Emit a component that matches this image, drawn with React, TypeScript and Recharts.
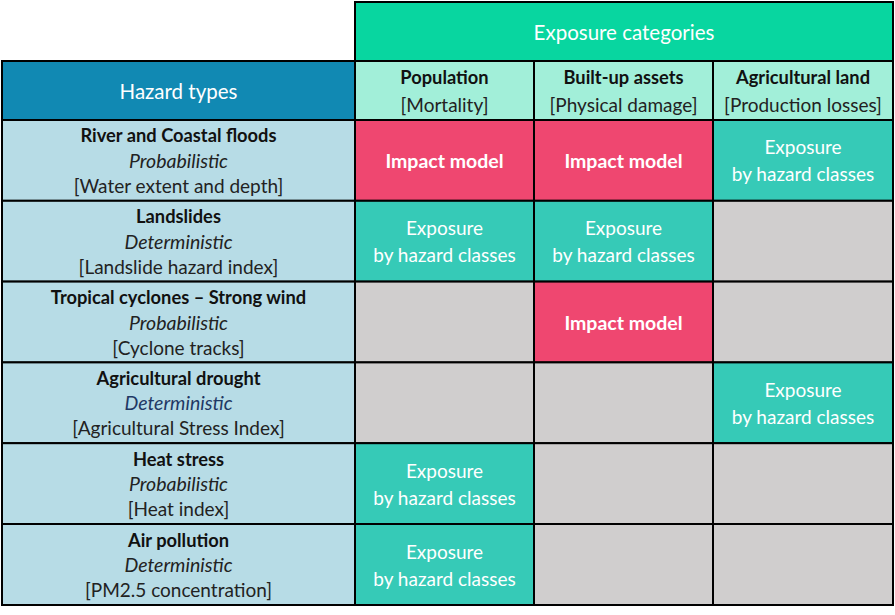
import React from 'react';
import { ComposedChart, XAxis, YAxis, ReferenceArea } from 'recharts';

// ---------- data ----------
const hazardTitle = 'Hazard types';
const exposureTitle = 'Exposure categories';
const hazardTypes = [
  'River and Coastal floods',
  'Landslides',
  'Tropical cyclones – Strong wind',
  'Agricultural drought',
  'Heat stress',
  'Air pollution',
];
const hazardMethods = ['Probabilistic', 'Deterministic', 'Probabilistic', 'Deterministic', 'Probabilistic', 'Deterministic'];
const hazardInputs = [
  '[Water extent and depth]',
  '[Landslide hazard index]',
  '[Cyclone tracks]',
  '[Agricultural Stress Index]',
  '[Heat index]',
  '[PM2.5 concentration]',
];
const exposureCategories = ['Population', 'Built-up assets', 'Agricultural land'];
const exposureMetrics = ['[Mortality]', '[Physical damage]', '[Production losses]'];
const populationCells = ['impact', 'exposure', 'none', 'none', 'exposure', 'exposure'];
const builtUpCells = ['impact', 'exposure', 'impact', 'none', 'none', 'none'];
const agriculturalCells = ['exposure', 'none', 'none', 'exposure', 'none', 'none'];
const cellLabels: Record<string, string[]> = {
  impact: ['Impact model'],
  exposure: ['Exposure', 'by hazard classes'],
  none: [],
};

// ---------- layout & style ----------
const W = 895;
const H = 615;
const COL = [0, 353, 532, 711, 891];
const ROW = [0, 59, 118, 198.8, 279.6, 360.4, 441.2, 522, 603];
const FONT = "Lato, 'Open Sans', sans-serif";
const COLORS: Record<string, string> = {
  exposureHead: '#08D6A0',
  hazardHead: '#1189B3',
  subHead: '#A2EFD9',
  hazardCell: '#B7DCE6',
  impact: '#EF4770',
  exposure: '#36CAB7',
  none: '#D0CECE',
};

type Line = { text: string; weight?: number; italic?: boolean; color?: string; size?: number };

function makeShape(fill: string, lines: Line[], gap: number) {
  return (p: any) => {
    const { x, y, width, height } = p;
    const cx = x + width / 2;
    const cy = y + height / 2;
    const n = lines.length;
    return (
      <g>
        <rect x={x} y={y} width={width} height={height} fill={fill} stroke="#000" strokeWidth={2} />
        {lines.map((l, i) => (
          <text
            key={i}
            x={cx}
            y={cy + (i - (n - 1) / 2) * gap}
            textAnchor="middle"
            dominantBaseline="central"
            fontFamily={FONT}
            fontSize={l.size ?? 19}
            fontWeight={l.weight ?? 400}
            fontStyle={l.italic ? 'italic' : 'normal'}
            fill={l.color ?? '#111'}
          >
            {l.text}
          </text>
        ))}
      </g>
    );
  };
}

type Cell = { key: string; x1: number; x2: number; y1: number; y2: number; shape: any };

function buildCells(): Cell[] {
  const cells: Cell[] = [];
  cells.push({
    key: 'exp-head', x1: COL[1], x2: COL[4], y1: ROW[0], y2: ROW[1],
    shape: makeShape(COLORS.exposureHead, [{ text: exposureTitle, color: '#fff', size: 20.5 }], 0),
  });
  cells.push({
    key: 'haz-head', x1: COL[0], x2: COL[1], y1: ROW[1], y2: ROW[2],
    shape: makeShape(COLORS.hazardHead, [{ text: hazardTitle, color: '#fff', size: 20.5 }], 0),
  });
  exposureCategories.forEach((c, j) => {
    cells.push({
      key: 'sub' + j, x1: COL[j + 1], x2: COL[j + 2], y1: ROW[1], y2: ROW[2],
      shape: makeShape(COLORS.subHead, [
        { text: c, weight: 700, size: 18.3 },
        { text: exposureMetrics[j], color: '#222' },
      ], 27),
    });
  });
  const columns = [populationCells, builtUpCells, agriculturalCells];
  hazardTypes.forEach((h, i) => {
    cells.push({
      key: 'haz' + i, x1: COL[0], x2: COL[1], y1: ROW[i + 2], y2: ROW[i + 3],
      shape: makeShape(COLORS.hazardCell, [
        { text: h, weight: 700, size: 18.3 },
        { text: hazardMethods[i], italic: true, size: 19.5, color: i === 3 ? '#1F3864' : '#222' },
        { text: hazardInputs[i], color: '#222' },
      ], 25),
    });
    columns.forEach((col, j) => {
      const kind = col[i];
      const lines = cellLabels[kind].map((t) => ({
        text: t, color: '#fff', weight: kind === 'impact' ? 700 : 400, size: kind === 'impact' ? 19.5 : 19,
      }));
      cells.push({
        key: `c${i}-${j}`, x1: COL[j + 1], x2: COL[j + 2], y1: ROW[i + 2], y2: ROW[i + 3],
        shape: makeShape(COLORS[kind], lines, 27),
      });
    });
  });
  return cells;
}

export default function App() {
  const cells = buildCells();
  return (
    <div style={{ position: 'absolute', left: 0, top: 0, width: W, height: H, background: '#fff' }}>
      <ComposedChart width={W} height={H} margin={{ top: 2, right: 2, bottom: 10, left: 2 }} data={[]}>
        <XAxis type="number" dataKey="x" domain={[COL[0], COL[4]]} hide allowDataOverflow />
        <YAxis type="number" dataKey="y" domain={[ROW[0], ROW[ROW.length - 1]]} reversed hide allowDataOverflow />
        {cells.map((c) => (
          <ReferenceArea
            key={c.key}
            x1={c.x1}
            x2={c.x2}
            y1={c.y1}
            y2={c.y2}
            fillOpacity={1}
            ifOverflow="visible"
            shape={c.shape}
          />
        ))}
      </ComposedChart>
    </div>
  );
}
